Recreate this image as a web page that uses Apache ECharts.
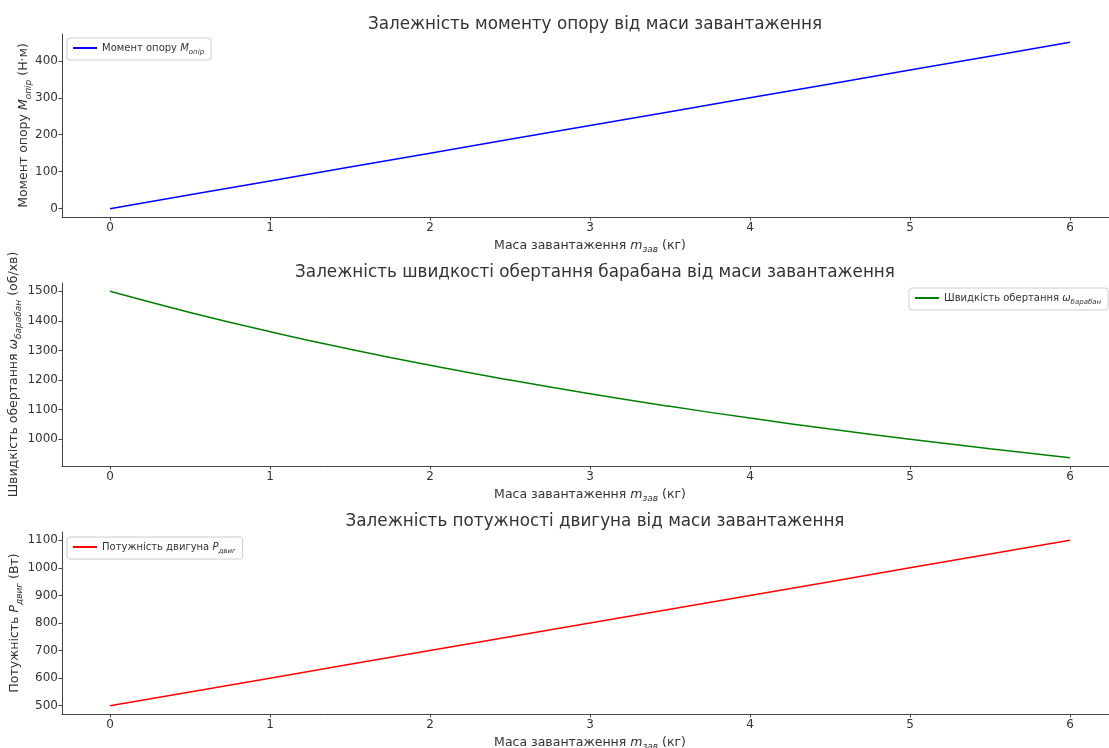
<!DOCTYPE html>
<html>
<head>
<meta charset="utf-8">
<script src="https://cdn.jsdelivr.net/npm/echarts@6/dist/echarts.min.js"></script>
<style>html,body{margin:0;padding:0;background:#fff;}#chart{width:1109px;height:748px;}</style>
</head>
<body>
<div id="chart"></div>
<script>
const massKg = [0, 0.5, 1, 1.5, 2, 2.5, 3, 3.5, 4, 4.5, 5, 5.5, 6];
const momentValues = [0, 37.5, 75, 112.5, 150, 187.5, 225, 262.5, 300, 337.5, 375, 412.5, 450];
const speedValues = [1500, 1428.6, 1363.6, 1304.3, 1250, 1200, 1153.8, 1111.1, 1071.4, 1034.5, 1000, 967.7, 937.5];
const powerValues = [500, 550, 600, 650, 700, 750, 800, 850, 900, 950, 1000, 1050, 1100];
const xTicks = [0, 1, 2, 3, 4, 5, 6];
const momentTicks = [0, 100, 200, 300, 400];
const speedTicks = [1000, 1100, 1200, 1300, 1400, 1500];
const powerTicks = [500, 600, 700, 800, 900, 1000, 1100];

const FONT = 'DejaVu Sans';
const TXT = '#333';
const AX = '#444';
const pairs = (ys) => massKg.map((x, i) => [x, ys[i]]);

const gridLeft = 62, gridWidth = 1056;
const grids = [
  {left: gridLeft, width: gridWidth, top: 34, height: 183, containLabel: false, outerBoundsMode: 'none'},
  {left: gridLeft, width: gridWidth, top: 283, height: 183, containLabel: false, outerBoundsMode: 'none'},
  {left: gridLeft, width: gridWidth, top: 532, height: 182, containLabel: false, outerBoundsMode: 'none'}
];

const rich = (fs) => ({
  i: {fontStyle: 'italic', fontSize: fs, color: TXT, fontFamily: FONT},
  s: {fontStyle: 'italic', fontSize: Math.round(fs * 0.7), color: TXT, fontFamily: FONT, verticalAlign: 'bottom', lineHeight: fs + 6, padding: [fs*0.45, 0, 0, 0]},
  n: {fontSize: fs, color: TXT, fontFamily: FONT}
});

function xAxis(idx) {
  return {
    gridIndex: idx, type: 'value', min: -0.3, max: 6.3,
    name: '{n|Маса завантаження }{i|m}{s|зав}{n| (кг)}',
    nameLocation: 'middle', nameGap: 19,
    nameTextStyle: {rich: rich(12.5)},
    axisLine: {show: true, onZero: false, lineStyle: {color: AX, width: 1}},
    axisTick: {show: true, length: 3.5, customValues: xTicks, lineStyle: {color: AX}},
    axisLabel: {customValues: xTicks, color: TXT, fontSize: 12, fontFamily: FONT, margin: 5, formatter: v => String(v)},
    splitLine: {show: false}
  };
}
function yAxis(idx, min, max, ticks, name, gap) {
  return {
    gridIndex: idx, type: 'value', min: min, max: max,
    name: name, nameLocation: 'middle', nameGap: gap, nameRotate: 90, nameMoveOverlap: false,
    nameTextStyle: {rich: rich(12.5)},
    axisLine: {show: true, onZero: false, lineStyle: {color: AX, width: 1}},
    axisTick: {show: true, length: 3.5, customValues: ticks, lineStyle: {color: AX}},
    axisLabel: {customValues: ticks, color: TXT, fontSize: 12, fontFamily: FONT, margin: 4, formatter: v => String(v)},
    splitLine: {show: false}
  };
}
function title(text, top) {
  return {text: text, left: 590, top: top, textAlign: 'center',
    textStyle: {fontSize: 16.8, fontWeight: 'normal', color: TXT, fontFamily: FONT}};
}
function legend(idx, name, pos) {
  return Object.assign({
    data: [name], orient: 'vertical', icon: 'rect', itemWidth: 24, itemHeight: 2, itemGap: 4,
    backgroundColor: '#fff', borderColor: '#ccc', borderWidth: 1, borderRadius: 3,
    padding: [5, 7, 4, 6],
    textStyle: {fontSize: 10, color: TXT, fontFamily: FONT, rich: rich(10)}
  }, pos);
}

const chart = echarts.init(document.getElementById('chart'), null, {renderer: 'canvas'});
chart.setOption({
  animation: false,
  backgroundColor: '#fff',
  title: [
    title('Залежність моменту опору від маси завантаження', 11),
    title('Залежність швидкості обертання барабана від маси завантаження', 259),
    title('Залежність потужності двигуна від маси завантаження', 508)
  ],
  legend: [
    legend(0, 'M0', {left: 67, top: 38, formatter: () => '{n|Момент опору }{i|M}{s|опір}'}),
    legend(1, 'W1', {left: 909, top: 288, formatter: () => '{n|Швидкість обертання }{i|ω}{s|барабан}'}),
    legend(2, 'P2', {left: 67, top: 537, formatter: () => '{n|Потужність двигуна }{i|P}{s|двиг}'})
  ],
  grid: grids,
  xAxis: [xAxis(0), xAxis(1), xAxis(2)],
  yAxis: [
    yAxis(0, -22.5, 472.5, momentTicks, '{n|Момент опору }{i|M}{s|опір}{n| (Н·м)}', 29),
    yAxis(1, 909.4, 1528.1, speedTicks, '{n|Швидкість обертання }{i|ω}{s|барабан}{n| (об/хв)}', 39),
    yAxis(2, 470, 1130, powerTicks, '{n|Потужність }{i|P}{s|двиг}{n| (Вт)}', 38)
  ],
  series: [
    {name: 'M0', type: 'line', xAxisIndex: 0, yAxisIndex: 0, data: pairs(momentValues), showSymbol: false, lineStyle: {color: '#0000ff', width: 1.5}, itemStyle: {color: '#0000ff'}},
    {name: 'W1', type: 'line', xAxisIndex: 1, yAxisIndex: 1, data: pairs(speedValues), smooth: true, showSymbol: false, lineStyle: {color: '#008000', width: 1.5}, itemStyle: {color: '#008000'}},
    {name: 'P2', type: 'line', xAxisIndex: 2, yAxisIndex: 2, data: pairs(powerValues), showSymbol: false, lineStyle: {color: '#ff0000', width: 1.5}, itemStyle: {color: '#ff0000'}}
  ]
});
</script>
</body>
</html>
